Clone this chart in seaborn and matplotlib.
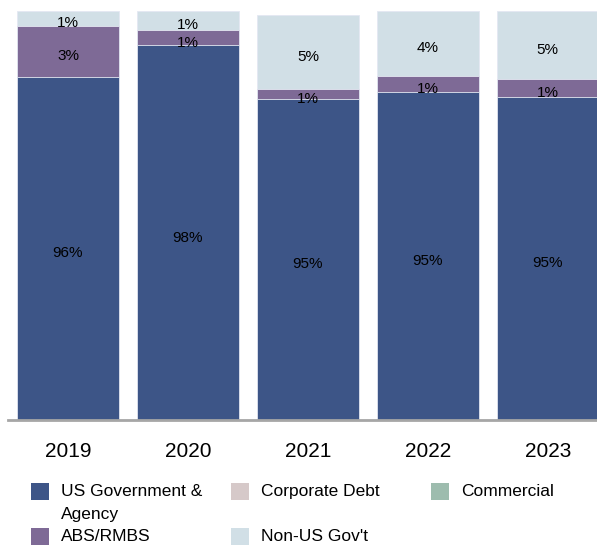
"""
Stacked bars of portfolio mix by year, with the share labels as printed.
"""
import matplotlib.pyplot as plt
from matplotlib.patches import Rectangle
import matplotlib.transforms as mtransforms
import pandas as pd
import seaborn as sns

sns.set_style("white")
plt.rcParams['font.family'] = ['Liberation Sans', 'DejaVu Sans']
plt.rcParams['text.color'] = 'black'
plt.rcParams['xtick.color'] = 'black'

years = ['2019', '2020', '2021', '2022', '2023']
# segment heights as drawn (a full bar is ~100)
us_gov = [83.9, 91.6, 78.5, 80.3, 79.0]
abs_rmbs = [12.5, 3.8, 2.4, 3.9, 4.4]
non_us = [3.6, 4.6, 18.1, 15.8, 16.6]
# labels as printed on the chart
us_gov_lbl = ['96%', '98%', '95%', '95%', '95%']
abs_rmbs_lbl = ['3%', '1%', '1%', '1%', '1%']
non_us_lbl = ['1%', '1%', '5%', '4%', '5%']

colors = {'US Government &\nAgency': '#3D5587',
          'Corporate Debt': '#D6C9C9',
          'Commercial': '#9DBCAE',
          'ABS/RMBS': '#7E6A96',
          "Non-US Gov't": '#D1DFE6'}

df = pd.DataFrame({'year': years, 'us': us_gov, 'abs': abs_rmbs, 'nonus': non_us})
df['c1'] = df['us']
df['c2'] = df['us'] + df['abs']
df['c3'] = df['c2'] + df['nonus']

W, H = 597, 546
fig = plt.figure(figsize=(W / 100, H / 100), dpi=100)
ax = fig.add_axes([8/W, 1-420/H, 1-8/W, 420/H])

# draw cumulative totals, tallest first so lower layers sit on top
for col, c in [('c3', colors["Non-US Gov't"]), ('c2', colors['ABS/RMBS']),
               ('c1', colors['US Government &\nAgency'])]:
    sns.barplot(data=df, x='year', y=col, color=c, width=0.85, saturation=1,
                edgecolor='#E4E8F2', linewidth=0.6, ax=ax)

# segment labels (nudged down a little, as in the original)
tr = mtransforms.offset_copy(ax.transData, fig=fig, x=0, y=-3.6, units='points')
for i in range(len(years)):
    ax.text(i, df['c1'][i] / 2, us_gov_lbl[i], ha='center', va='center', fontsize=11, transform=tr)
    ax.text(i, (df['c1'][i] + df['c2'][i]) / 2, abs_rmbs_lbl[i], ha='center', va='center', fontsize=11, transform=tr)
    ax.text(i, (df['c2'][i] + df['c3'][i]) / 2, non_us_lbl[i], ha='center', va='center', fontsize=11, transform=tr)

ax.set_xlim(-0.5, 4.41)
ax.set_ylim(0, 100 * 420 / 409)
ax.set_xlabel('')
ax.set_ylabel('')
ax.set_yticks([])
ax.tick_params(axis='x', length=0, pad=16, labelsize=15)
for s in ['top', 'right', 'left']:
    ax.spines[s].set_visible(False)
ax.spines['bottom'].set_color('#A6A6A6')
ax.spines['bottom'].set_linewidth(2)

# legend laid out by hand: square + text, first-line aligned
entries = [('US Government &\nAgency', 31, 483), ('ABS/RMBS', 31, 528),
           ('Corporate Debt', 231, 483), ("Non-US Gov't", 231, 528),
           ('Commercial', 431, 483)]
for name, x0, y0 in entries:
    fig.patches.append(Rectangle((x0 / W, 1 - (y0 + 17) / H), 18 / W, 17 / H,
                                 facecolor=colors[name], edgecolor='none',
                                 transform=fig.transFigure, figure=fig))
    fig.text((x0 + 30) / W, 1 - (y0 + 8.5) / H, name.split('\n')[0],
             ha='left', va='center', fontsize=12.5)
    if '\n' in name:
        fig.text((x0 + 30) / W, 1 - (y0 + 31.5) / H, name.split('\n')[1],
                 ha='left', va='center', fontsize=12.5)

fig.savefig('out.png', dpi=100)
